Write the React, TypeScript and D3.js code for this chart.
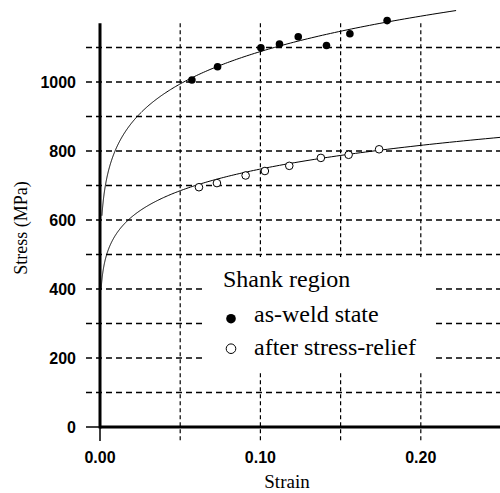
import React from "react";
import * as d3 from "d3";

// Data
const asWeldStrain = [0.0573, 0.0733, 0.1003, 0.1119, 0.1236, 0.1412, 0.1558, 0.179];
const asWeldStress = [1006, 1044, 1099, 1110, 1131, 1106, 1140, 1178];
const reliefStrain = [0.0617, 0.0729, 0.0908, 0.1028, 0.118, 0.1377, 0.155, 0.174];
const reliefStress = [695, 707, 729, 742, 757, 780, 789, 805];

// Power-law fit curves sigma = K * eps^n
const fitK = [1468, 1001];
const fitN = [0.13, 0.1267];
const fitStart = [0.0012, 0.0007];
const fitEnd = [0.222, 0.25];

const xTicks = [0, 0.1, 0.2];
const xTickLabels = ["0.00", "0.10", "0.20"];
const xGrid = [0.05, 0.1, 0.15, 0.2];
const yTicks = [0, 200, 400, 600, 800, 1000];
const yGrid = [100, 200, 300, 400, 500, 600, 700, 800, 900, 1000, 1100];

const legendTitle = "Shank region";
const legendLabels = ["as-weld state", "after stress-relief"];

export default function App() {
  const x = d3.scaleLinear().domain([0, 0.25]).range([100, 501]);
  const y = d3.scaleLinear().domain([0, 1000]).range([427, 82]);
  const yTop = y(1170);

  const line = d3
    .line<[number, number]>()
    .x((d) => x(d[0]))
    .y((d) => y(d[1]));

  const curves = fitK.map((K, i) => {
    const s0 = Math.log(fitStart[i]);
    const s1 = Math.log(fitEnd[i]);
    const pts: [number, number][] = d3
      .range(0, 301)
      .map((k) => Math.exp(s0 + ((s1 - s0) * k) / 300))
      .map((e) => [e, K * Math.pow(e, fitN[i])]);
    return line(pts) || "";
  });

  const sans = "Liberation Sans, Arial, sans-serif";
  const serif = "Liberation Serif, DejaVu Serif, Times New Roman, serif";

  return (
    <svg
      width={500}
      height={493}
      style={{ position: "absolute", left: 0, top: 0, background: "#fff" }}
    >
      {/* horizontal grid */}
      {yGrid.map((v) => (
        <line
          key={"hg" + v}
          x1={86}
          x2={500}
          y1={y(v)}
          y2={y(v)}
          stroke="#000"
          strokeWidth={1.6}
          strokeDasharray="6,4"
        />
      ))}
      {/* vertical grid */}
      {xGrid.map((v) => (
        <line
          key={"vg" + v}
          x1={x(v)}
          x2={x(v)}
          y1={yTop}
          y2={441}
          stroke="#000"
          strokeWidth={1.2}
          strokeDasharray="4,3"
        />
      ))}
      {/* legend background */}
      <rect x={205} y={257} width={231} height={116} fill="#fff" />

      {/* axes */}
      <line x1={86} x2={100} y1={y(0)} y2={y(0)} stroke="#000" strokeWidth={1.5} />
      <line x1={x(0)} x2={x(0)} y1={y(0)} y2={441} stroke="#000" strokeWidth={1.5} />
      <line x1={x(0)} x2={x(0)} y1={yTop} y2={y(0) + 1.5} stroke="#000" strokeWidth={3} />
      <line x1={x(0)} x2={500} y1={y(0)} y2={y(0)} stroke="#000" strokeWidth={3} />

      {/* fit curves */}
      {curves.map((d, i) => (
        <path key={"c" + i} d={d} fill="none" stroke="#000" strokeWidth={1} />
      ))}

      {/* points */}
      {asWeldStrain.map((e, i) => (
        <circle key={"a" + i} cx={x(e)} cy={y(asWeldStress[i])} r={3.8} fill="#000" />
      ))}
      {reliefStrain.map((e, i) => (
        <circle
          key={"r" + i}
          cx={x(e)}
          cy={y(reliefStress[i])}
          r={3.8}
          fill="#fff"
          stroke="#000"
          strokeWidth={1}
        />
      ))}

      {/* y tick labels */}
      {yTicks.map((v) => (
        <text
          key={"yt" + v}
          x={76}
          y={y(v) + 6}
          textAnchor="end"
          fontFamily={sans}
          fontWeight="bold"
          fontSize={16}
        >
          {v}
        </text>
      ))}
      {/* x tick labels */}
      {xTicks.map((v, i) => (
        <text
          key={"xt" + v}
          x={x(v)}
          y={463}
          textAnchor="middle"
          fontFamily={sans}
          fontWeight="bold"
          fontSize={16}
        >
          {xTickLabels[i]}
        </text>
      ))}

      {/* axis titles */}
      <text x={287} y={488} textAnchor="middle" fontFamily={serif} fontSize={19}>
        Strain
      </text>
      <text
        transform="translate(27,228) rotate(-90)"
        textAnchor="middle"
        fontFamily={serif}
        fontSize={18}
      >
        Stress (MPa)
      </text>

      {/* legend */}
      <text x={223} y={287} fontFamily={serif} fontSize={24}>
        {legendTitle}
      </text>
      <circle cx={231} cy={318.7} r={4.8} fill="#000" />
      <text x={254} y={322} fontFamily={serif} fontSize={24}>
        {legendLabels[0]}
      </text>
      <circle cx={231} cy={348.7} r={4.8} fill="#fff" stroke="#000" strokeWidth={1} />
      <text x={254} y={355} fontFamily={serif} fontSize={24}>
        {legendLabels[1]}
      </text>
    </svg>
  );
}
